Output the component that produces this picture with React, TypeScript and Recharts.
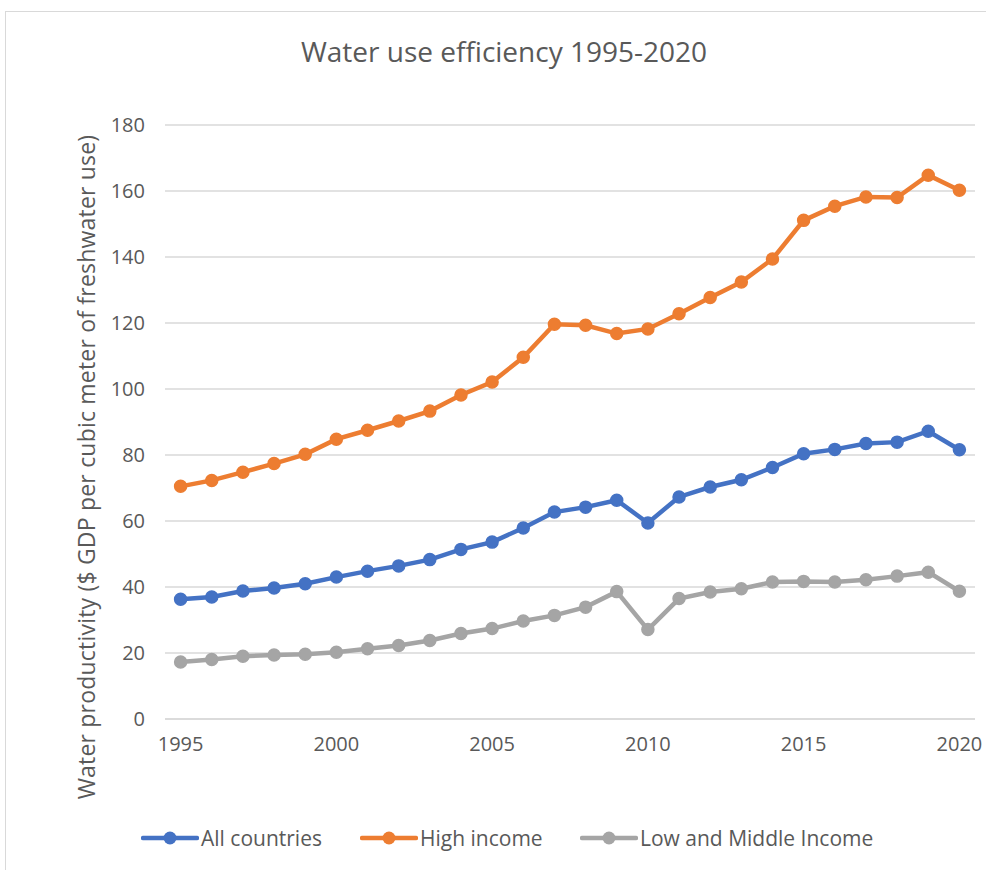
import { CartesianGrid, Line, LineChart, XAxis, YAxis } from 'recharts';

const years = [
  1995, 1996, 1997, 1998, 1999, 2000, 2001, 2002, 2003, 2004, 2005, 2006, 2007,
  2008, 2009, 2010, 2011, 2012, 2013, 2014, 2015, 2016, 2017, 2018, 2019, 2020,
];

const allCountries = [
  36.3, 37.0, 38.8, 39.7, 41.0, 43.0, 44.8, 46.4, 48.3, 51.4, 53.6, 57.9, 62.7,
  64.2, 66.3, 59.4, 67.3, 70.3, 72.5, 76.2, 80.4, 81.7, 83.5, 83.9, 87.2, 81.6,
];

const highIncome = [
  70.5, 72.3, 74.8, 77.4, 80.2, 84.8, 87.5, 90.3, 93.3, 98.2, 102.1, 109.6, 119.6,
  119.3, 116.8, 118.2, 122.8, 127.7, 132.4, 139.4, 151.1, 155.4, 158.2, 158.0, 164.8, 160.2,
];

const lowMiddle = [
  17.3, 18.0, 19.0, 19.4, 19.6, 20.2, 21.3, 22.3, 23.8, 25.9, 27.4, 29.7, 31.4,
  33.9, 38.6, 27.1, 36.5, 38.5, 39.5, 41.5, 41.7, 41.5, 42.2, 43.3, 44.5, 38.7,
];

const yTicks = [0, 20, 40, 60, 80, 100, 120, 140, 160, 180];

const seriesList = [
  { key: 'all', name: 'All countries', color: '#4472C4' },
  { key: 'high', name: 'High income', color: '#ED7D31' },
  { key: 'low', name: 'Low and Middle Income', color: '#A5A5A5' },
];

const legendLeft = [141, 360, 580];

const font = '"Open Sans", sans-serif';
const textColor = '#595959';

export default function App() {
  const data = years.map((year, i) => ({
    year,
    all: allCountries[i],
    high: highIncome[i],
    low: lowMiddle[i],
  }));

  return (
    <div
      style={{
        position: 'absolute',
        left: 0,
        top: 0,
        width: 986,
        height: 870,
        overflow: 'hidden',
        background: '#fff',
        fontFamily: font,
      }}
    >
      <div
        style={{
          position: 'absolute',
          left: 5,
          top: 11,
          width: 1000,
          height: 900,
          border: '1.5px solid #d9d9d9',
        }}
      />
      <div
        style={{
          position: 'absolute',
          left: 504,
          top: 32,
          transform: 'translateX(-50%)',
          whiteSpace: 'nowrap',
          fontSize: 28,
          color: textColor,
        }}
      >
        Water use efficiency 1995-2020
      </div>

      <div style={{ position: 'absolute', left: 0, top: 0 }}>
        <LineChart width={986} height={870} data={data} margin={{ top: 125, right: 11, bottom: 121, left: 0 }}>
          <CartesianGrid stroke="#d9d9d9" strokeWidth={1.4} vertical={false} />
          <XAxis
            dataKey="year"
            interval={4}
            height={30}
            tickLine={false}
            axisLine={{ stroke: '#d9d9d9', strokeWidth: 1.4 }}
            padding={{ left: 15.6, right: 15.6 }}
            tickMargin={12}
            tick={{ fill: textColor, fontSize: 20, fontFamily: font }}
          />
          <YAxis
            domain={[0, 180]}
            ticks={yTicks}
            width={165}
            tickLine={false}
            axisLine={false}
            tickMargin={14}
            tick={{ fill: textColor, fontSize: 20, fontFamily: font }}
          />
          {seriesList.map((s) => (
            <Line
              key={s.key}
              type="linear"
              dataKey={s.key}
              name={s.name}
              stroke={s.color}
              strokeWidth={4.5}
              dot={{ r: 6, fill: s.color, stroke: s.color, strokeWidth: 1.5 }}
              activeDot={false}
              isAnimationActive={false}
            />
          ))}
        </LineChart>
      </div>

      <svg width={986} height={870} style={{ position: 'absolute', left: 0, top: 0, pointerEvents: 'none' }}>
        <text
          x={86}
          y={467}
          transform="rotate(-90 86 467)"
          textAnchor="middle"
          dominantBaseline="central"
          fontSize={23}
          letterSpacing={0.2}
          fontFamily={font}
          fill={textColor}
        >
          Water productivity ($ GDP per cubic meter of freshwater use)
        </text>
      </svg>

      {seriesList.map((s, i) => (
        <div
          key={s.key}
          style={{
            position: 'absolute',
            left: legendLeft[i],
            top: 824,
            height: 28,
            display: 'flex',
            alignItems: 'center',
            whiteSpace: 'nowrap',
            fontSize: 21,
            color: textColor,
          }}
        >
          <svg width={58} height={16} style={{ marginRight: 2 }}>
            <line x1={2} y1={8} x2={56} y2={8} stroke={s.color} strokeWidth={4.5} strokeLinecap="round" />
            <circle cx={29} cy={8} r={6.5} fill={s.color} />
          </svg>
          {s.name}
        </div>
      ))}
    </div>
  );
}
